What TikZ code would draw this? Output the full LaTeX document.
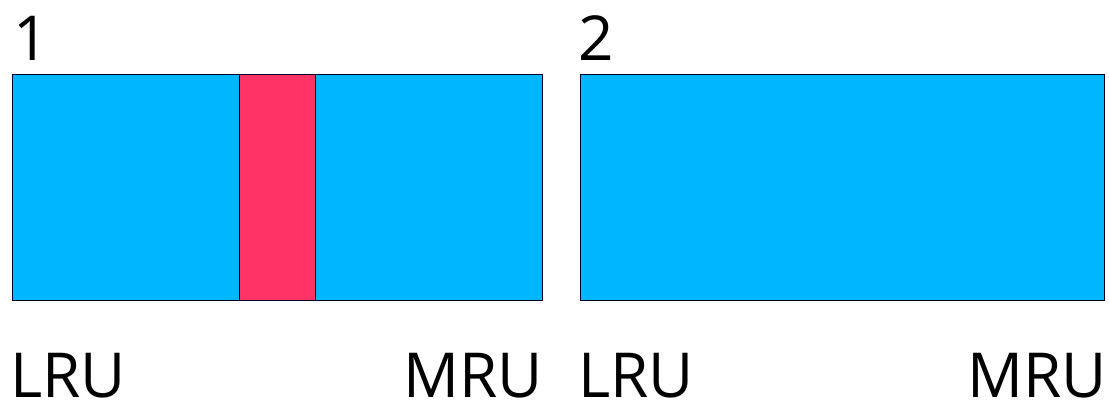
\documentclass[tikz,border=0pt]{standalone}
\usepackage{fontspec}
\setmainfont{Open Sans}
\definecolor{cacheblue}{HTML}{00B7FF}
\definecolor{cachered}{HTML}{FF3366}
\begin{document}
\begin{tikzpicture}[x=1pt,y=-1pt,
  box/.style={draw=black!85!blue, line width=1pt},
  lbl/.style={inner sep=0pt, font=\fontsize{62}{62}\selectfont}]
\useasboundingbox (0,0) rectangle (1109,403);
\fill[white] (0,0) rectangle (1109,403);
% cache 1
\draw[box, fill=cacheblue] (12,75) rectangle (542,301);
\draw[box, fill=cachered] (239,75) rectangle (315,301);
% cache 2
\draw[box, fill=cacheblue] (580,75) rectangle (1104,301);
% labels
\node[lbl, anchor=base west] (n1) at (13,61) {1};
\node[lbl, anchor=base west] (n2) at (578,61) {2};
\node[lbl, anchor=base west] (lru1) at (10,397) {LRU};
\node[lbl, anchor=base east] (mru1) at (543,397) {MRU};
\node[lbl, anchor=base west] (lru2) at (578,397) {LRU};
\node[lbl, anchor=base east] (mru2) at (1107,397) {MRU};
\end{tikzpicture}
\end{document}
